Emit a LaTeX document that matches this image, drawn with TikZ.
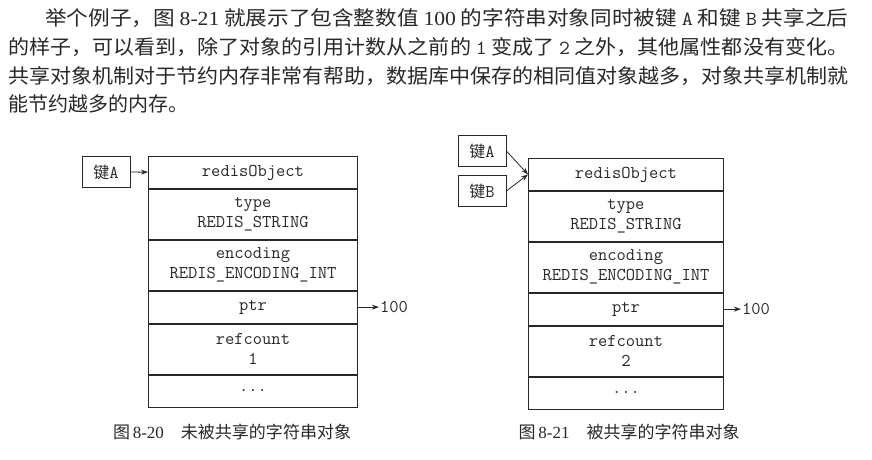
\documentclass[tikz,border=0pt]{standalone}
\usepackage{graphicx}
\usepackage{fontspec}
\setmainfont{Noto Sans CJK SC}
\newfontfamily\latinrm{Liberation Serif}
\usetikzlibrary{positioning, arrows.meta}
\definecolor{ink}{RGB}{40,40,40}
\tikzset{
  field/.style={draw=ink, line width=0.9pt, minimum height=32pt, inner sep=0pt, align=center,
    text=ink, font=\ttfamily\fontsize{18}{20}\selectfont},
  rowA/.style={field, minimum width=209pt},
  rowB/.style={field, minimum width=195pt},
  tall/.style={minimum height=50pt},
  keybox/.style={draw=ink, line width=0.9pt, minimum width=48pt, minimum height=31pt, inner sep=0pt,
    text=ink, font=\fontsize{16}{20}\selectfont},
  value/.style={inner sep=1pt, text=ink, font=\ttfamily\fontsize{18}{20}\selectfont},
  textline/.style={anchor=base west, inner sep=0pt, text=ink, font=\fontsize{20}{24}\selectfont},
  caption/.style={inner sep=0pt, text=ink, font=\fontsize{17}{20}\selectfont},
}
\begin{document}
\begin{tikzpicture}[x=1pt, y=-1pt, >={Stealth[length=7pt, width=5pt]}]
\useasboundingbox[fill=white] (0,0) rectangle (872,460);
\node[textline] (line1) at (45,25.5) {\resizebox{803pt}{\height}{举个例子，图 {\latinrm 8-21} 就展示了包含整数值 {\latinrm 100} 的字符串对象同时被键 {\ttfamily A} 和键 {\ttfamily B} 共享之后}};
\node[textline] (line2) at (8,54.5) {\resizebox{840pt}{\height}{的样子，可以看到，除了对象的引用计数从之前的 {\ttfamily 1} 变成了 {\ttfamily 2} 之外，其他属性都没有变化。}};
\node[textline] (line3) at (8,83.5) {\resizebox{840pt}{\height}{共享对象机制对于节约内存非常有帮助，数据库中保存的相同值对象越多，对象共享机制就}};
\node[textline] (line4) at (8,111.5) {能节约越多的内存。};
\node[rowA, anchor=north west] (objA) at (148,156) {redisObject};
\node[rowA, tall, below=0pt of objA] (typeA) {type\\REDIS\_STRING};
\node[rowA, tall, below=0pt of typeA] (encA) {encoding\\REDIS\_ENCODING\_INT};
\node[rowA, below=0pt of encA] (ptrA) {ptr};
\node[rowA, tall, below=0pt of ptrA] (refA) {refcount\\1};
\node[rowA, below=0pt of refA] (restA) {...};
\node[keybox] (keyA) at (106,172) {键{\ttfamily\fontsize{18}{20}\selectfont A}};
\node[value, right=21pt of ptrA] (valA) {100};
\draw[->, ink, line width=0.8pt] (keyA) -- (objA);
\draw[->, ink, line width=0.8pt] (ptrA) -- (valA);
\node[rowB, anchor=north west] (objB) at (528,158) {redisObject};
\node[rowB, tall, below=0pt of objB] (typeB) {type\\REDIS\_STRING};
\node[rowB, tall, below=0pt of typeB] (encB) {encoding\\REDIS\_ENCODING\_INT};
\node[rowB, below=0pt of encB] (ptrB) {ptr};
\node[rowB, tall, below=0pt of ptrB] (refB) {refcount\\2};
\node[rowB, below=0pt of refB] (restB) {...};
\node[keybox] (keyBA) at (482,151) {键{\ttfamily\fontsize{18}{20}\selectfont A}};
\node[keybox] (keyBB) at (482,191) {键{\ttfamily\fontsize{18}{20}\selectfont B}};
\node[value, right=17pt of ptrB] (valB) {100};
\draw[->, ink, line width=0.8pt] (keyBA.east) -- (objB.west);
\draw[->, ink, line width=0.8pt] (keyBB.east) -- (objB.west);
\draw[->, ink, line width=0.8pt] (ptrB) -- (valB);
\node[caption] (capA) at (232,432) {图\,{\latinrm 8-20}\quad 未被共享的字符串对象};
\node[caption] (capB) at (629,432) {图\,{\latinrm 8-21}\quad 被共享的字符串对象};
\end{tikzpicture}
\end{document}
